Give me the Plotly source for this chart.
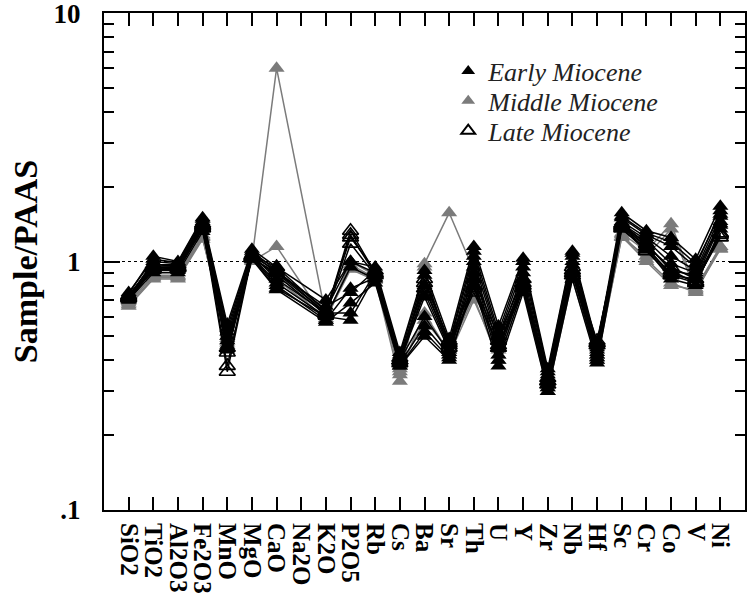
import plotly.graph_objects as go

categories = ["SiO2", "TiO2", "Al2O3", "Fe2O3", "MnO", "MgO", "CaO", "Na2O", "K2O", "P2O5",
              "Rb", "Cs", "Ba", "Sr", "Th", "U", "Y", "Zr", "Nb", "Hf",
              "Sc", "Cr", "Co", "V", "Ni"]

N = None
# Early Miocene samples (Sample/PAAS)
early_1 = [.74, 1.05, 1.00, 1.50, .56, 1.12, .95, N, .70, 1.00, .95, .43, .92, .49, 1.15, .55, 1.03, .37, 1.10, .46, 1.57, 1.33, 1.25, 1.02, 1.67]
early_2 = [.72, 1.00, .98, 1.45, .52, 1.08, .90, N, .66, .75, .92, .41, .80, .46, 1.05, .50, .95, .35, 1.05, .44, 1.50, 1.28, 1.15, .95, 1.60]
early_3 = [.73, .97, .96, 1.42, .50, 1.06, .85, N, .62, .62, .90, .40, .72, .44, 1.00, .48, .90, .34, 1.00, .43, 1.45, 1.25, 1.05, .92, 1.52]
early_4 = [.71, .95, .95, 1.40, .48, 1.05, .82, N, .60, .58, .88, .40, .60, .43, .95, .45, .85, .33, .97, .42, 1.42, 1.22, .98, .90, 1.45]
early_5 = [.70, .93, .93, 1.38, .46, 1.04, .80, N, .58, .78, .86, .39, .55, .42, .90, .42, .82, .32, .93, .41, 1.40, 1.18, .92, .88, 1.42]
early_6 = [.72, .92, .92, 1.35, .44, 1.03, .78, N, .60, .95, .85, .38, .50, .40, .85, .40, .78, .31, .90, .40, 1.38, 1.15, .88, .85, 1.40]
early_7 = [.75, 1.02, .99, 1.48, .54, 1.10, .92, N, .64, 1.00, .90, .42, .88, .47, 1.10, .52, 1.00, .36, 1.08, .45, 1.52, 1.30, 1.20, .98, 1.55]
early_8 = [.70, .90, .90, 1.32, .45, 1.02, .77, N, .57, .68, .82, .38, .52, .41, .80, .38, .75, .30, .85, .39, 1.35, 1.12, .85, .80, 1.35]

# Middle Miocene samples
middle_1 = [.66, .85, .85, 1.23, .50, 1.02, 6.00, N, .60, .95, .85, .33, .98, 1.57, .92, .45, .85, .30, .90, .42, 1.30, 1.10, 1.42, .78, 1.15]
middle_2 = [.67, .86, .86, 1.25, .48, 1.00, 1.15, N, .58, 1.00, .88, .35, .95, .42, .70, .42, .80, .30, .88, .41, 1.25, 1.05, 1.35, .76, 1.12]
middle_3 = [.68, .88, .88, 1.28, .47, 1.03, .90, N, .58, .97, .86, .36, .62, .43, .75, .44, .82, .31, .92, .42, 1.28, 1.02, .82, .75, 1.15]
middle_4 = [.69, .87, .87, 1.26, .49, 1.01, .85, N, .59, .93, .84, .37, .58, .44, .72, .40, .78, .30, .85, .40, 1.26, 1.00, .80, .77, 1.13]

# Late Miocene samples
late_1 = [.72, .95, .95, 1.40, .36, 1.05, .92, N, .62, 1.33, .90, .40, .85, .47, .85, .50, .85, .33, .95, .48, 1.40, 1.15, .95, .85, 1.30]
late_2 = [.73, .97, .97, 1.42, .38, 1.06, .95, N, .63, 1.25, .92, .41, .82, .48, .80, .48, .82, .34, .92, .47, 1.42, 1.18, .92, .82, 1.30]
late_3 = [.71, .93, .94, 1.38, .45, 1.04, .88, N, .61, 1.18, .88, .39, .78, .46, .75, .46, .80, .32, .88, .46, 1.38, 1.12, .90, .83, 1.25]
late_4 = [.72, .94, .95, 1.36, .43, 1.03, .90, N, .62, 1.28, .89, .40, .75, .45, .78, .45, .78, .33, .90, .47, 1.36, 1.10, .88, .82, 1.28]

early = [early_1, early_2, early_3, early_4, early_5, early_6, early_7, early_8]
middle = [middle_1, middle_2, middle_3, middle_4]
late = [late_1, late_2, late_3, late_4]

group_names = ["Early Miocene", "Middle Miocene", "Late Miocene"]
y_tickvals = [0.1, 1, 10]
y_ticktext = [".1", "1", "10"]
y_minor = [0.2, 0.3, 0.4, 0.5, 0.6, 0.7, 0.8, 0.9, 2, 3, 4, 5, 6, 7, 8, 9]

GRAY = "#7b7b7b"
SERIF = "Liberation Serif"
MS = 14
Y_RANGE = [-1.0002, 1.0002]

fig = go.Figure()

def add_group(samples, line_color, marker):
    for s in samples:
        fig.add_trace(go.Scatter(
            x=categories, y=s, mode="lines+markers", connectgaps=True,
            line=dict(color=line_color, width=1.5),
            marker=marker, showlegend=False, cliponaxis=False))

mk_early = dict(symbol="triangle-up", size=MS, color="black", line=dict(width=0))
mk_middle = dict(symbol="triangle-up", size=MS, color=GRAY, line=dict(width=0))
mk_late = dict(symbol="triangle-up-open", size=MS, color="black", line=dict(width=1.6, color="black"))

add_group(middle, GRAY, mk_middle)
add_group(late, "black", mk_late)
add_group(early, "black", mk_early)

# legend-only entries, one legend box each
legend_ids = ["legend", "legend2", "legend3"]
for nm, mk, lg in zip(group_names, [mk_early, mk_middle, mk_late], legend_ids):
    fig.add_trace(go.Scatter(x=[None], y=[None], mode="markers", marker=mk,
                             name=nm, showlegend=True, legend=lg))

# invisible trace to carry the right-hand axis
fig.add_trace(go.Scatter(x=[None], y=[None], yaxis="y2", showlegend=False, hoverinfo="skip"))

fig.add_shape(type="line", xref="paper", x0=0, x1=1, yref="y", y0=1, y1=1,
              line=dict(color="black", width=1.2, dash="dot"), layer="below")

leg_font = dict(family=SERIF, size=26, style="italic", color="#222")
def leg(yc):
    return dict(x=0.537, y=yc, xanchor="left", yanchor="middle", font=leg_font,
                bgcolor="rgba(0,0,0,0)", itemsizing="constant")

yaxis_common = dict(type="log", range=Y_RANGE, showgrid=False, zeroline=False,
                    ticks="inside", ticklen=16, tickwidth=1.5, tickcolor="black",
                    tickmode="array", tickvals=y_tickvals,
                    minor=dict(tickmode="array", tickvals=y_minor, ticks="inside",
                               ticklen=10, tickwidth=1.5, tickcolor="black"),
                    automargin=False)

fig.update_layout(
    width=747, height=602,
    margin=dict(l=104, r=2, t=13, b=92, autoexpand=False),
    paper_bgcolor="white", plot_bgcolor="white",
    showlegend=True,
    legend=leg(0.883), legend2=leg(0.823), legend3=leg(0.763),
    xaxis=dict(type="category", categoryorder="array", categoryarray=categories,
               range=[-1, 25], showgrid=False, zeroline=False,
               showline=True, linecolor="black", linewidth=2, mirror="ticks",
               ticks="inside", ticklen=13, tickwidth=1.5, tickcolor="black",
               tickmode="array", tickvals=categories, ticktext=categories,
               tickangle=90, ticklabelstandoff=6, automargin=False,
               tickfont=dict(family=SERIF, size=25, weight="bold", color="black")),
    yaxis=dict(**yaxis_common, ticktext=y_ticktext,
               showline=True, linecolor="black", linewidth=2, mirror=True,
               ticklabelstandoff=16, ticklabeloverflow="allow",
               tickfont=dict(family=SERIF, size=27, weight="bold", color="black"),
               title=dict(text="Sample/PAAS", standoff=6,
                          font=dict(family=SERIF, size=34, weight="bold", color="black"))),
    yaxis2=dict(**yaxis_common, overlaying="y", side="right", showline=False,
                showticklabels=False),
)

fig.write_html("out.html", config={"displayModeBar": False},
               post_script="document.body.style.margin='0';")
